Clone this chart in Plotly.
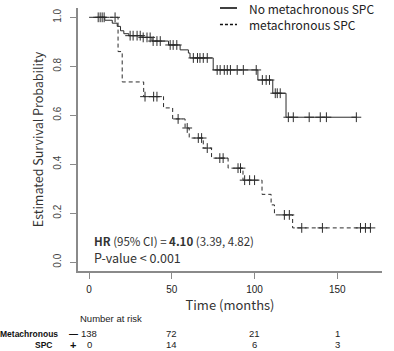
import numpy as np
import plotly.graph_objects as go

# ---- data ----
no_t = [0, 9.5, 14, 17, 19, 21, 24, 32, 38, 48, 55, 60, 61, 75, 102, 111, 119, 161.5]
no_s = [1.0, 0.988, 0.976, 0.963, 0.945, 0.933, 0.925, 0.918, 0.903, 0.887, 0.867,
        0.854, 0.834, 0.785, 0.744, 0.69, 0.592, 0.592]
no_cens = [5.5, 6.7, 7.9, 9.1, 24.8, 26.6, 29, 30.9, 32.7, 35, 36.9, 38.7, 41, 43,
           49, 50.8, 53, 63, 65.5, 67, 69, 71.4, 77.4, 79.2, 81.7, 83.5, 85.4, 89.5,
           93.2, 101, 104.7, 107, 109, 112.5, 113.7, 115.5, 120.4, 123.4, 133, 139.7,
           143.4, 161.5]

met_t = [8, 17.5, 20, 33, 45, 50.5, 58, 60.5, 69, 74, 84, 93, 104.5, 110, 112, 123, 170]
met_s = [1.0, 0.86, 0.736, 0.676, 0.63, 0.585, 0.548, 0.507, 0.466, 0.425, 0.384,
         0.335, 0.277, 0.234, 0.193, 0.14, 0.14]
met_cens = [15.7, 33.8, 39, 41, 53.8, 59.3, 66, 68, 71.4, 79, 81, 90, 91.5, 94, 97,
            100, 118, 121, 128.5, 141, 164, 167, 170]

risk_times = [0, 50, 100, 150]
risk_no = [138, 72, 21, 1]
risk_met = [0, 14, 6, 3]

series_names = ["No metachronous SPC", "metachronous SPC"]

CURVE = "#2b2b2b"
TXT = "#333333"
AX = "#8a8a8a"
JP = "Noto Sans CJK JP"
AR = "Liberation Sans, Arial"


def surv_at(ts, ss, c):
    i = np.searchsorted(np.array(ts), c, side="right") - 1
    return ss[max(i, 0)]


fig = go.Figure()
for ts, ss, cens, dash in [(no_t, no_s, no_cens, "solid"), (met_t, met_s, met_cens, "4px,3px")]:
    fig.add_trace(go.Scatter(x=ts, y=ss, mode="lines", line=dict(shape="hv", color=CURVE, width=1, dash=dash),
                             showlegend=False, hoverinfo="skip"))
    cy = [surv_at(ts, ss, c) for c in cens]
    for sym in ["line-ns", "line-ew"]:
        fig.add_trace(go.Scatter(x=cens, y=cy, mode="markers",
                                 marker=dict(symbol=sym, size=7, line=dict(color=CURVE, width=1)),
                                 showlegend=False, hoverinfo="skip"))

anns = []
shapes = []
# legend (manual)
for i, (name, dash) in enumerate(zip(series_names, ["solid", "3px,2px"])):
    yp = 1.0 - i * 0.063
    shapes.append(dict(type="line", xref="paper", yref="paper", x0=0.467, x1=0.523, y0=yp, y1=yp,
                       line=dict(color="#111", width=1.6, dash=dash)))
    anns.append(dict(xref="paper", yref="paper", x=0.555, y=yp, text=name, showarrow=False,
                     xanchor="left", yanchor="middle", font=dict(family=JP, size=12, color="#222")))

anns.append(dict(xref="paper", yref="paper", x=0.045, y=0.113,
                 text="<b>HR</b> (95% CI) = <b>4.10</b> (3.39, 4.82)", showarrow=False,
                 xanchor="left", yanchor="middle", font=dict(family=JP, size=11.5, color=TXT)))
anns.append(dict(xref="paper", yref="paper", x=0.045, y=0.05, text="P-value < 0.001", showarrow=False,
                 xanchor="left", yanchor="middle", font=dict(family=JP, size=12.5, color=TXT)))

# number at risk
anns.append(dict(xref="paper", yref="paper", x=0.0, y=-0.179, text="Number at risk", showarrow=False,
                 xanchor="left", yanchor="middle", font=dict(family=AR, size=9.5, color="#222")))
for t, a, b in zip(risk_times, risk_no, risk_met):
    anns.append(dict(xref="x", yref="paper", x=t, y=-0.238, text=str(a), showarrow=False,
                     xanchor="center", yanchor="middle", font=dict(family=AR, size=9.5, color="#222")))
    anns.append(dict(xref="x", yref="paper", x=t, y=-0.280, text=str(b), showarrow=False,
                     xanchor="center", yanchor="middle", font=dict(family=AR, size=9.5, color="#222")))
anns.append(dict(xref="paper", yref="paper", x=-0.058, y=-0.238, text="<b>Metachronous</b>", showarrow=False,
                 xanchor="right", yanchor="middle", font=dict(family=AR, size=8.5, color="#111")))
anns.append(dict(xref="paper", yref="paper", x=-0.115, y=-0.280, text="<b>SPC</b>", showarrow=False,
                 xanchor="center", yanchor="middle", font=dict(family=AR, size=8.5, color="#111")))
anns.append(dict(xref="paper", yref="paper", x=-0.016, y=-0.238, text="<b>\u2014</b>", showarrow=False,
                 xanchor="center", yanchor="middle", font=dict(family=AR, size=9, color="#111")))
anns.append(dict(xref="paper", yref="paper", x=-0.016, y=-0.280, text="<b>+</b>", showarrow=False,
                 xanchor="center", yanchor="middle", font=dict(family=AR, size=11, color="#111")))

fig.update_layout(
    width=394, height=351,
    margin=dict(l=78, r=12, t=8, b=80),
    paper_bgcolor="white", plot_bgcolor="white",
    showlegend=False,
    annotations=anns, shapes=shapes,
    xaxis=dict(range=[-6.7, 177], tickvals=[0, 50, 100, 150], showgrid=False, zeroline=False,
               showline=True, linecolor=AX, linewidth=1.5, ticks="outside", ticklen=6, tickcolor=AX,
               tickfont=dict(family=AR, size=10, color="#222"), ticklabelstandoff=2,
               title=dict(text="Time (months)", font=dict(family=JP, size=13, color=TXT), standoff=0)),
    yaxis=dict(range=[-0.036, 1.038], tickvals=[0, 0.2, 0.4, 0.6, 0.8, 1.0], tickformat=".1f",
               showgrid=False, zeroline=False, showline=True, linecolor=AX, linewidth=1.5,
               ticks="outside", ticklen=6, tickcolor=AX, tickangle=-90,
               tickfont=dict(family=AR, size=10, color="#444"), ticklabelstandoff=5,
               title=dict(text="Estimated Survival Probability", font=dict(family=JP, size=12.5, color=TXT),
                          standoff=6)),
)

fig.write_html("out.html")
